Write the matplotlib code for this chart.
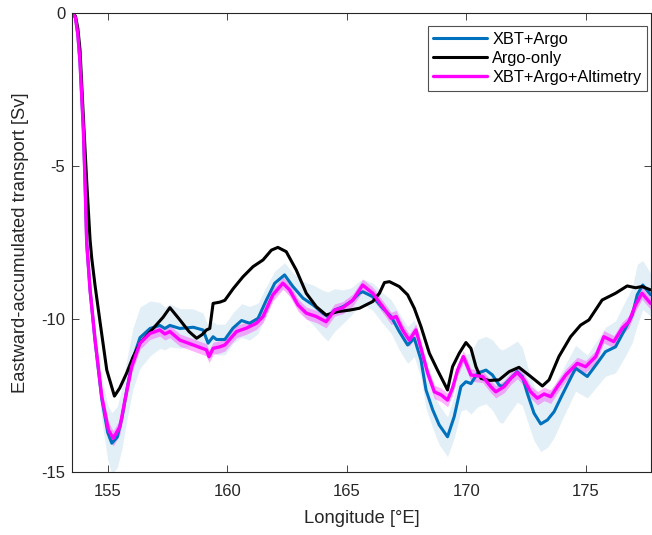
import numpy as np
import matplotlib
matplotlib.use('Agg')
import matplotlib.pyplot as plt

# XBT+Argo
xbt_lon = [153.54, 153.65, 153.75, 153.84, 153.98, 154.05, 154.12, 154.26, 154.47, 154.75,
           155.0, 155.17, 155.4, 155.6, 155.8, 156.05, 156.35, 156.77, 157.18, 157.39,
           157.6, 158.02, 158.58, 158.99, 159.2, 159.41, 159.55, 159.9, 160.24, 160.6,
           160.94, 161.29, 161.64, 161.99, 162.4, 162.75, 163.17, 163.59, 164.0, 164.21,
           164.49, 164.84, 165.19, 165.53, 165.67, 166.09, 166.51, 166.86, 167.2, 167.55,
           167.83, 168.11, 168.32, 168.6, 168.87, 169.22, 169.5, 169.78, 169.99, 170.2,
           170.48, 170.83, 171.1, 171.38, 171.52, 171.8, 172.14, 172.35, 172.56, 172.84,
           173.12, 173.4, 173.68, 174.02, 174.58, 175.07, 175.48, 175.83, 176.25, 176.67,
           176.95, 177.16, 177.39, 177.72]
xbt_tr = [0, -0.15, -0.7, -1.6, -3.8, -5.5, -7.5, -9.04, -10.7, -12.6,
          -13.7, -14.05, -13.85, -13.2, -12.3, -11.3, -10.6, -10.3, -10.2, -10.3,
          -10.2, -10.3, -10.26, -10.35, -10.78, -10.57, -10.66, -10.66, -10.29, -10.04,
          -10.13, -9.97, -9.37, -8.82, -8.55, -8.93, -9.31, -9.53, -9.8, -9.91,
          -9.7, -9.59, -9.42, -9.15, -9.1, -9.26, -9.64, -9.91, -10.4, -10.84,
          -10.62, -11.33, -12.31, -12.96, -13.45, -13.84, -13.18, -12.2, -12.04, -12.1,
          -11.76, -11.66, -11.82, -12.15, -12.2, -11.98, -11.71, -11.87, -12.42, -13.07,
          -13.42, -13.29, -13.02, -12.47, -11.6, -11.87, -11.44, -11.06, -10.9, -10.29,
          -9.86, -9.2, -8.88, -9.2]
xbt_err = [0, 0.02, 0.05, 0.1, 0.15, 0.2, 0.3, 0.4, 0.5, 0.7,
           0.9, 1.0, 1.0, 1.0, 1.0, 1.0, 1.0, 0.9, 0.75, 0.7,
           0.7, 0.65, 0.6, 0.55, 0.55, 0.5, 0.5, 0.5, 0.5, 0.55,
           0.55, 0.5, 0.45, 0.4, 0.4, 0.45, 0.55, 0.65, 0.75, 0.8,
           0.7, 0.55, 0.45, 0.4, 0.4, 0.45, 0.5, 0.55, 0.6, 0.6,
           0.6, 0.6, 0.6, 0.6, 0.65, 0.65, 0.7, 0.8, 0.9, 1.0,
           1.1, 1.1, 1.15, 1.2, 1.2, 1.1, 1.0, 0.95, 0.9, 0.9,
           0.9, 0.9, 0.85, 0.8, 0.75, 0.7, 0.75, 0.8, 0.85, 0.9,
           0.9, 1.0, 0.8, 0.7]

# Argo-only
argo_lon = [153.54, 153.65, 153.75, 153.84, 153.98, 154.12, 154.26, 154.33, 154.47, 154.68,
            154.96, 155.28, 155.5, 155.79, 156.05, 156.35, 156.9, 157.32, 157.6, 158.02,
            158.4, 158.72, 158.95, 159.13, 159.27, 159.41, 159.69, 159.9, 160.25, 160.66,
            161.08, 161.5, 161.85, 162.12, 162.47, 162.89, 163.31, 163.73, 164.14, 164.63,
            165.12, 165.53, 166.09, 166.37, 166.58, 166.79, 167.2, 167.55, 167.83, 168.11,
            168.46, 168.8, 169.08, 169.22, 169.43, 169.71, 169.99, 170.2, 170.41, 170.62,
            170.96, 171.38, 171.8, 172.21, 172.7, 173.19, 173.47, 173.88, 174.37, 174.79,
            175.14, 175.69, 176.25, 176.74, 177.09, 177.36, 177.72]
argo_tr = [0, -0.1, -0.5, -1.2, -3.4, -5.5, -7.4, -8.0, -8.9, -10.1,
           -11.66, -12.51, -12.25, -11.76, -11.25, -10.78, -10.3, -9.93, -9.62, -10.02,
           -10.4, -10.62, -10.5, -10.35, -10.3, -9.48, -9.44, -9.38, -9.0, -8.61,
           -8.28, -8.06, -7.74, -7.65, -7.79, -8.39, -9.15, -9.59, -9.86, -9.75,
           -9.7, -9.64, -9.42, -9.15, -8.8, -8.77, -8.93, -9.2, -9.64, -10.24,
           -11.11, -11.66, -12.09, -12.31, -11.55, -11.11, -10.76, -10.95, -11.55, -11.93,
           -12.0, -11.98, -11.71, -11.57, -11.87, -12.18, -11.98, -11.22, -10.57, -10.19,
           -10.02, -9.37, -9.15, -8.91, -8.97, -8.93, -9.04]

# XBT+Argo+Altimetry
alt_lon = [153.54, 153.65, 153.75, 153.84, 153.98, 154.05, 154.12, 154.26, 154.47, 154.75,
           155.03, 155.23, 155.51, 155.72, 156.0, 156.35, 156.77, 157.18, 157.39, 157.6,
           158.02, 158.58, 159.13, 159.24, 159.41, 159.69, 159.9, 160.39, 160.8, 161.22,
           161.5, 161.91, 162.33, 162.61, 162.96, 163.31, 163.73, 164.14, 164.49, 164.84,
           165.26, 165.67, 166.09, 166.51, 166.86, 167.07, 167.34, 167.62, 167.9, 168.11,
           168.39, 168.67, 168.95, 169.22, 169.43, 169.64, 169.88, 170.06, 170.2, 170.69,
           171.03, 171.24, 171.59, 171.87, 172.14, 172.42, 172.7, 172.98, 173.26, 173.54,
           173.82, 174.17, 174.65, 175.0, 175.42, 175.76, 176.18, 176.53, 176.81, 177.09,
           177.36, 177.72]
alt_tr = [0, -0.15, -0.7, -1.6, -3.8, -5.5, -7.5, -9.04, -10.68, -12.53,
          -13.62, -13.89, -13.51, -12.64, -11.55, -10.78, -10.46, -10.35, -10.48, -10.4,
          -10.68, -10.84, -11.0, -11.22, -10.95, -10.9, -10.84, -10.4, -10.29, -10.13,
          -9.91, -9.2, -8.82, -9.04, -9.53, -9.8, -9.91, -10.08, -9.7, -9.62,
          -9.37, -8.88, -9.15, -9.59, -9.97, -9.91, -10.35, -10.68, -10.35, -10.95,
          -11.76, -12.37, -12.47, -12.64, -12.25, -11.66, -11.22, -11.55, -11.82, -11.87,
          -12.2, -12.37, -12.2, -11.93, -11.74, -11.98, -12.37, -12.58, -12.44, -12.53,
          -12.2, -11.82, -11.44, -11.55, -11.22, -10.57, -10.73, -10.29, -10.08, -9.53,
          -9.15, -9.48]
alt_err = [0, 0.02, 0.05, 0.08, 0.1, 0.12, 0.15, 0.18, 0.2, 0.22,
           0.25, 0.25, 0.25, 0.22, 0.2, 0.2, 0.2, 0.2, 0.2, 0.2,
           0.2, 0.2, 0.2, 0.2, 0.2, 0.2, 0.2, 0.2, 0.2, 0.2,
           0.2, 0.2, 0.2, 0.2, 0.2, 0.2, 0.2, 0.2, 0.2, 0.2,
           0.2, 0.2, 0.2, 0.2, 0.2, 0.2, 0.2, 0.2, 0.2, 0.2,
           0.2, 0.22, 0.22, 0.22, 0.22, 0.2, 0.2, 0.2, 0.2, 0.2,
           0.2, 0.2, 0.2, 0.2, 0.2, 0.2, 0.2, 0.22, 0.22, 0.22,
           0.2, 0.2, 0.2, 0.2, 0.2, 0.2, 0.2, 0.2, 0.2, 0.2,
           0.2, 0.2]

xticks = [155, 160, 165, 170, 175]
yticks = [-15, -10, -5, 0]


def main():
    plt.rcParams['font.family'] = ['Liberation Sans', 'DejaVu Sans']
    plt.rcParams['axes.unicode_minus'] = False
    fig = plt.figure(figsize=(6.52, 5.35), dpi=100)
    ax = fig.add_axes([0.111, 0.1172, 0.888, 0.858])

    xl = np.array(xbt_lon)
    xt = np.array(xbt_tr)
    xe = np.array(xbt_err)
    al = np.array(alt_lon)
    at = np.array(alt_tr)
    ae = np.array(alt_err)

    # bands
    ax.fill_between(xl, xt - xe, xt + xe, color='#0072BD', alpha=0.11, lw=0)
    ax.fill_between(al, at - ae, at + ae, color='#FF00FF', alpha=0.3, lw=0)

    kw = dict(solid_joinstyle='round', solid_capstyle='round')
    ax.plot(xl, xt, color='#0072BD', lw=2.2, label='XBT+Argo', **kw)
    ax.plot(argo_lon, argo_tr, color='black', lw=2.2, label='Argo-only', **kw)
    ax.plot(al, at, color='#FF00FF', lw=2.4, label='XBT+Argo+Altimetry', **kw)

    ax.set_xlim(153.52, 177.75)
    ax.set_ylim(-15, 0)
    ax.set_xticks(xticks)
    ax.set_yticks(yticks)
    ax.tick_params(direction='in', length=5, width=0.6, colors='#262626',
                   labelsize=12, top=True, right=True)
    ax.tick_params(axis='x', pad=8.5)
    ax.tick_params(axis='y', pad=5)
    for s in ax.spines.values():
        s.set_color('#262626')
        s.set_linewidth(0.8)
    ax.set_xlabel('Longitude [°E]', fontsize=13.2, color='#262626', labelpad=8)
    ax.set_ylabel('Eastward-accumulated transport [Sv]', fontsize=13.2,
                  color='#262626', labelpad=9)

    leg = ax.legend(loc='upper right', bbox_to_anchor=(0.993, 0.972), fontsize=11.8,
                    frameon=True, fancybox=False, handlelength=3.3, handletextpad=0.3,
                    labelspacing=0.25, borderpad=0.35, borderaxespad=0.0)
    leg.get_frame().set_edgecolor('#262626')
    leg.get_frame().set_linewidth(0.8)

    fig.savefig('out.png', dpi=100)


if __name__ == '__main__':
    main()
